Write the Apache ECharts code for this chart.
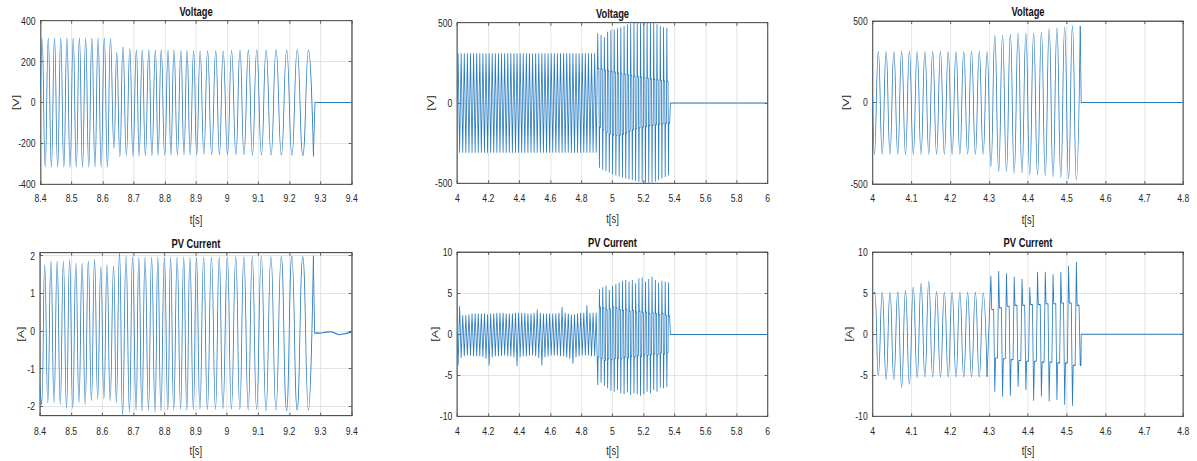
<!DOCTYPE html>
<html>
<head>
<meta charset="utf-8">
<title>Voltage and PV Current</title>
<script src="https://cdn.jsdelivr.net/npm/echarts@6.0.0/dist/echarts.min.js"></script>
<style>
  html, body { margin: 0; padding: 0; background: #fff; overflow: hidden; }
  /* the source figure is squeezed horizontally, so the chart is drawn wider and scaled in x */
  #chart { width: 1596px; height: 461px; transform: scaleX(0.75); transform-origin: 0 0; }
</style>
</head>
<body>
<div id="chart"></div>
<script>
// ---- case A (8.4 - 9.4 s): times of the voltage extremes, shared with the current ----
const tA = [8.4,
  8.405, 8.415, 8.425, 8.435, 8.445, 8.455, 8.465, 8.475, 8.485, 8.495, 8.505, 8.515,
  8.525, 8.535, 8.545, 8.555, 8.565, 8.575, 8.585, 8.595, 8.605, 8.615, 8.625, 8.636,
  8.645, 8.655, 8.665, 8.676, 8.687, 8.697, 8.708, 8.717, 8.727, 8.737, 8.748, 8.758,
  8.769, 8.778, 8.788, 8.799, 8.810, 8.819, 8.829, 8.840, 8.851, 8.861, 8.871, 8.881,
  8.892, 8.902, 8.913, 8.925, 8.937, 8.950, 8.963, 8.975, 8.987, 9.001, 9.014, 9.028,
  9.041, 9.054, 9.068, 9.081, 9.095, 9.110, 9.125, 9.141, 9.157, 9.174, 9.191, 9.208,
  9.225, 9.243, 9.261, 9.277];
const vA = [60,
  313, -315, 314, -316, 315, -315, 314, -316, 315, -316, 314, -315,
  315, -316, 314, -315, 315, -316, 314, -315, 315, -316, 314, -225,
  245, -265, 272, -258, 262, -262, 258, -262, 257, -260, 256, -260,
  257, -258, 256, -258, 255, -258, 256, -256, 254, -256, 254, -255,
  253, -255, 252, -253, 253, -255, 253, -255, 252, -255, 254, -254,
  255, -255, 256, -256, 257, -256, 257, -257, 258, -258, 257, -258,
  258, -259, 257, -263];
const iA = [-1.5,
  -1.95, 1.75, -1.9, 1.85, -1.9, 1.85, -1.95, 1.85, -2.05, 1.9, -2.05, 1.8,
  -1.9, 1.8, -1.95, 1.85, -1.85, 1.9, -1.8, 1.7, -1.8, 1.75, -1.85, 1.72,
  -1.9, 2.1, -2.25, 1.97, -2.15, 1.97, -2.1, 1.95, -2.12, 1.95, -2.1, 1.96,
  -2.15, 1.96, -2.12, 1.95, -2.1, 1.95, -2.1, 1.96, -2.08, 1.96, -2.1, 1.96,
  -2.08, 1.95, -2.07, 1.96, -2.08, 1.96, -2.08, 1.95, -2.06, 1.96, -2.07, 1.97,
  -2.08, 1.97, -2.1, 1.98, -2.08, 1.98, -2.12, 1.97, -2.1, 1.98, -2.12, 1.99,
  -2.1, 1.98, -2.1, 2.0];
const tailTA = [9.282, 9.4];
const tailVA = [0, 0];
const tailTIA = [9.281, 9.29, 9.30, 9.31, 9.32, 9.335, 9.35, 9.36, 9.37, 9.38, 9.39, 9.4];
const tailIA = [-0.06, -0.05, -0.06, -0.04, -0.03, -0.02, -0.07, -0.1, -0.08, -0.07, -0.05, -0.03];

// ---- case B (4 - 6 s) ----
const tB0 = 4.005;      // first voltage peak
const halfB = 0.01;     // half period, 50 Hz
const startB = [4.0, 0, 0];
const vBPrePk = [310, 310, 310, 310, 310, 310, 310, 310, 310, 310, 310, 310, 310, 310, 310,
  310, 310, 310, 310, 310, 310, 310, 310, 310, 310, 310, 310, 310, 310, 310,
  310, 310, 310, 310, 310, 310, 310, 310, 310, 310, 310, 310, 310, 310, 310];
const vBPreTr = [-310, -310, -310, -310, -310, -310, -310, -310, -310, -310, -310, -310, -310, -310, -310,
  -310, -310, -310, -310, -310, -310, -310, -310, -310, -310, -310, -310, -310, -310, -310,
  -310, -310, -310, -310, -310, -310, -310, -310, -310, -310, -310, -310, -310, -310, -310];
const iBPrePk = [3.4, 2.3, 2.3, 2.4, 2.5, 2.5, 2.5, 2.5, 2.5, 2.4, 2.5, 2.5, 2.6, 2.6, 2.6,
  2.5, 2.5, 2.5, 2.6, 2.6, 2.6, 2.6, 2.5, 2.5, 2.6, 3.0, 2.6, 2.5, 2.5, 2.5,
  2.5, 2.5, 2.6, 3.3, 2.6, 2.5, 2.4, 2.4, 2.5, 2.6, 2.6, 3.5, 2.6, 2.6, 2.6];
const iBPreTr = [-3.8, -2.9, -2.7, -2.6, -2.6, -2.7, -2.7, -2.7, -2.8, -3.0, -3.8, -2.8, -2.7, -2.7, -2.6,
  -2.6, -2.7, -2.7, -2.8, -3.9, -2.8, -2.7, -2.7, -2.6, -2.6, -2.7, -2.9, -3.8, -2.8, -2.7,
  -2.6, -2.6, -2.6, -2.7, -2.7, -2.8, -3.0, -3.6, -2.8, -2.7, -2.6, -2.6, -2.6, -2.7, -2.7];
const tB1 = 4.905;      // first peak after the change
const periodB = 0.0212;
const vBPostPk = [434, 424, 410, 444, 454, 458, 466, 471, 480, 491, 495, 500, 503, 505, 506, 505, 503, 498, 490, 480, 472, 468];
const vBPostTr = [-403, -415, -424, -432, -444, -452, -458, -465, -470, -475, -480, -486, -490, -492, -496, -497, -495, -490, -480, -470, -460, -450];
const vBPostUp = [215, 212, 205, 200, 196, 192, 186, 182, 178, 176, 171, 167, 164, 160, 157, 154, 150, 147, 144, 140, 137, 135];
const vBPostLo = [-150, -168, -184, -195, -200, -204, -200, -194, -186, -176, -166, -160, -155, -150, -146, -141, -138, -135, -132, -130, -127, -125];
const iBPostPk = [5.5, 5.7, 5.9, 5.4, 5.9, 6.1, 6.3, 6.5, 6.6, 6.4, 6.6, 6.2, 6.8, 6.9, 6.4, 6.7, 7.0, 6.6, 6.3, 6.5, 6.4, 6.3];
const iBPostTr = [-6.2, -5.9, -6.3, -6.6, -6.9, -7.0, -6.8, -7.2, -7.3, -7.1, -7.4, -7.2, -7.3, -7.5, -7.3, -7.0, -7.2, -6.8, -7.0, -6.5, -6.6, -6.4];
const iBPostUp = [3.3, 3.2, 3.0, 3.1, 3.3, 3.2, 3.0, 2.9, 3.0, 2.8, 2.9, 2.7, 2.8, 2.6, 2.7, 2.5, 2.6, 2.5, 2.4, 2.5, 2.3, 2.2];
const iBPostLo = [-2.8, -3.0, -3.2, -3.0, -3.1, -3.0, -2.9, -3.0, -2.8, -2.9, -2.7, -2.8, -2.6, -2.7, -2.5, -2.6, -2.5, -2.4, -2.5, -2.3, -2.4, -2.2];
const tailTB = [5.373, 6];
const tailVB = [0, 0];
const tailIB = [-0.05, -0.05];

// ---- case C (4 - 4.8 s) ----
const tC0 = 4.0045;     // first voltage trough
const halfC = 0.01;
const startC = [4.0, 40, 4.9];
const vCPre = [-317, 313, -317, 313, -317, 313, -317, 313, -317, 313, -317, 313, -317, 313, -317,
  313, -317, 313, -317, 313, -317, 313, -317, 313, -317, 313, -317, 313, -317, 313];
const vCPost = [-393, 411, -423, 411, -423, 419, -433, 425, -430, 425, -444, 425,
  -444, 431, -448, 452, -454, 456, -460, 462, -468, 470, -474, 470];
const iCPre = [5.1, -5.0, 5.1, -5.5, 5.1, -5.5, 5.15, -6.5, 5.3, -6.1, 5.7, -5.3, 6.2, -5.2, 6.4,
  -5.2, 5.2, -5.2, 5.1, -5.2, 5.1, -5.2, 5.1, -5.2, 5.1, -5.2, 5.1, -5.2, 5.0, -5.2];
const tC1 = 4.3045;
const periodC = 0.02;
const iCPostPk = [7.1, 7.7, 7.4, 7.0, 6.7, 5.7, 7.6, 7.6, 7.3, 7.6, 8.3, 8.8];
const iCPostTr = [-7.0, -7.6, -7.5, -6.4, -6.8, -8.1, -7.6, -8.2, -8.0, -8.6, -8.7, -3.8];
const iCPostUp = [3.0, 3.2, 3.4, 3.5, 3.5, 3.6, 3.6, 3.7, 3.7, 3.8, 3.8, 3.5];
const iCPostLo = [-2.9, -3.0, -3.1, -3.2, -3.3, -3.3, -3.4, -3.4, -3.5, -3.5, -3.8, -3.8];
const tailTC = [4.537, 4.8];
const tailVC = [0, 0];
const tailIC = [-0.02, -0.02];

const yTicksA = [-2, -1, 0, 1, 2];

// ---- helpers ----
const SX = 0.75;        // horizontal squeeze applied by css
const FONT = '"Liberation Sans", Arial, sans-serif';
const LINE = '#2a7cc2';
const AXIS = '#4d4d4d';
const TEXT = '#262626';
const GRIDLINE = '#e0e0e0';
// where inside one cycle the peak, shoulder, trough and shoulder sit
const SHAPE = [0, 0.1, 0.35, 0.5, 0.6, 0.85];

function zip(ts, vs) { return ts.map((t, i) => [t, vs[i]]); }
function interleave(a, b) {
  const out = [];
  a.forEach((v, i) => { out.push(v); if (i < b.length) out.push(b[i]); });
  return out;
}
function stepped(t0, dt, vs) { return vs.map((v, i) => [t0 + i * dt, v]); }
function cycles(t0, period, hi, hiS, lo, loS, hiFirst) {
  const out = [];
  hi.forEach((_, k) => {
    const vals = hiFirst
      ? [hi[k], hiS[k], hiS[k], lo[k], loS[k], loS[k]]
      : [lo[k], loS[k], loS[k], hi[k], hiS[k], hiS[k]];
    SHAPE.forEach((f, j) => out.push([t0 + (k + f) * period, vals[j]]));
  });
  return out;
}
function before(pts, tEnd) { return pts.filter(p => p[0] < tEnd); }

function line(idx, data, smooth) {
  return {
    type: 'line', xAxisIndex: idx, yAxisIndex: idx, data: data,
    smooth: smooth, showSymbol: false, symbol: 'none', silent: true,
    lineStyle: { width: 1.1, color: LINE }, itemStyle: { color: LINE }, z: 3
  };
}

// ---- series data ----
const oscVA = zip(tA, vA);
const oscIA = zip(tA, iA);

const preVB = [[startB[0], startB[1]]].concat(stepped(tB0, halfB, interleave(vBPrePk, vBPreTr)));
const preIB = [[startB[0], startB[2]]].concat(stepped(tB0, halfB, interleave(iBPreTr, iBPrePk)));
const postVB = before(cycles(tB1, periodB, vBPostPk, vBPostUp, vBPostTr, vBPostLo, true), tailTB[0]);
const postIB = before(cycles(tB1, periodB, iBPostPk, iBPostUp, iBPostTr, iBPostLo, false), tailTB[0]);

const oscVC = [[startC[0], startC[1]]].concat(stepped(tC0, halfC, vCPre.concat(vCPost)));
const preIC = [[startC[0], startC[2]]].concat(stepped(tC0, halfC, iCPre));
const postIC = before(cycles(tC1, periodC, iCPostPk, iCPostUp, iCPostTr, iCPostLo, true), tailTC[0]);

const series = [
  line(0, oscVA, 0.5),
  line(0, [oscVA[oscVA.length - 1]].concat(zip(tailTA, tailVA)), false),
  line(1, preVB.concat(postVB, zip(tailTB, tailVB)), false),
  line(2, oscVC, 0.5),
  line(2, [oscVC[oscVC.length - 1]].concat(zip(tailTC, tailVC)), false),
  line(3, oscIA, 0.5),
  line(3, [oscIA[oscIA.length - 1]].concat(zip(tailTIA, tailIA)), false),
  line(4, preIB.concat(postIB, zip(tailTB, tailIB)), false),
  line(5, preIC, 0.5),
  line(5, [preIC[preIC.length - 1]].concat(postIC, zip(tailTC, tailIC)), false)
];

// ---- layout (boxes in screen px, before the squeeze is undone) ----
const panels = [
  { title: 'Voltage', yName: '[V]', x: [8.4, 9.4, 0.1], y: [-400, 400, 200], box: [40.5, 20.7, 311.2, 163.6], yNameAt: 15, xMargin: 8, xGap: 29 },
  { title: 'Voltage', yName: '[V]', x: [4, 6, 0.2], y: [-500, 500, 500], box: [457.3, 22.7, 310.4, 160.6], yNameAt: 430, xMargin: 9, xGap: 29 },
  { title: 'Voltage', yName: '[V]', x: [4, 4.8, 0.1], y: [-500, 500, 500], box: [872.7, 21, 310.6, 163], yNameAt: 845, xMargin: 8, xGap: 29 },
  { title: 'PV Current', yName: '[A]', x: [8.4, 9.4, 0.1], y: [-2.25, 2.08], yTicks: yTicksA, box: [40, 252.7, 311.7, 163], yNameAt: 20, xMargin: 9, xGap: 28 },
  { title: 'PV Current', yName: '[A]', x: [4, 6, 0.2], y: [-10, 10, 5], box: [457.3, 252, 310.4, 164.3], yNameAt: 434, xMargin: 9, xGap: 28 },
  { title: 'PV Current', yName: '[A]', x: [4, 4.8, 0.1], y: [-10, 10, 5], box: [872.7, 252, 310.6, 164.3], yNameAt: 847.5, xMargin: 9, xGap: 28 }
];

const grid = [], title = [], xAxis = [], yAxis = [], xTop = [], yRight = [];
const labelStyle = { fontFamily: FONT, fontSize: 11.5, color: TEXT };
const nameStyle = { fontFamily: FONT, fontSize: 12.5, color: TEXT };

panels.forEach((p, i) => {
  const [l, t, w, h] = p.box;
  grid.push({ left: l / SX, top: t, width: w / SX, height: h, show: true, borderColor: AXIS, borderWidth: 1,
    backgroundColor: '#fff', containLabel: false, outerBoundsMode: 'none' });
  title.push({ text: p.title, left: (l + w / 2) / SX, top: t - 16, textAlign: 'center', padding: 0,
    textStyle: { fontFamily: FONT, fontSize: 12.5, fontWeight: 'bold', color: '#111' } });

  const xBase = { gridIndex: i, type: 'value', min: p.x[0], max: p.x[1], interval: p.x[2] };
  xAxis.push(Object.assign({}, xBase, {
    position: 'bottom', name: 't[s]', nameLocation: 'middle', nameGap: p.xGap, nameTextStyle: nameStyle,
    nameMoveOverlap: false,
    axisLine: { show: true, onZero: false, lineStyle: { color: AXIS, width: 1 } },
    axisTick: { show: true, inside: true, length: 3, lineStyle: { color: AXIS } },
    axisLabel: Object.assign({ margin: p.xMargin }, labelStyle),
    splitLine: { show: true, lineStyle: { color: GRIDLINE, width: 1 } }
  }));
  xTop.push(Object.assign({}, xBase, {
    position: 'top',
    axisLine: { show: true, onZero: false, lineStyle: { color: AXIS, width: 1 } },
    axisTick: { show: true, inside: true, length: 3, lineStyle: { color: AXIS } },
    axisLabel: { show: false }, splitLine: { show: false }
  }));

  const yBase = { gridIndex: i, type: 'value', min: p.y[0], max: p.y[1] };
  if (p.y[2]) yBase.interval = p.y[2];
  const tickExtra = p.yTicks ? { customValues: p.yTicks } : {};
  // distance from the axis to the near edge of the rotated name, in unsqueezed px
  const gap = (l - p.yNameAt) / SX - 7.5;
  yAxis.push(Object.assign({}, yBase, {
    position: 'left', name: p.yName, nameLocation: 'middle', nameGap: gap, nameTextStyle: nameStyle,
    nameMoveOverlap: false,
    axisLine: { show: true, onZero: false, lineStyle: { color: AXIS, width: 1 } },
    axisTick: Object.assign({ show: true, inside: true, length: 3 / SX, lineStyle: { color: AXIS } }, tickExtra),
    axisLabel: Object.assign({ margin: 5 / SX }, labelStyle, tickExtra),
    splitLine: { show: true, lineStyle: { color: GRIDLINE, width: 1 } }
  }));
  yRight.push(Object.assign({}, yBase, {
    position: 'right',
    axisLine: { show: true, onZero: false, lineStyle: { color: AXIS, width: 1 } },
    axisTick: Object.assign({ show: true, inside: true, length: 3 / SX, lineStyle: { color: AXIS } }, tickExtra),
    axisLabel: { show: false }, splitLine: { show: false }
  }));
});

const chart = echarts.init(document.getElementById('chart'), null, { renderer: 'svg', width: 1596, height: 461 });
chart.setOption({
  backgroundColor: '#fff',
  animation: false,
  title: title,
  grid: grid,
  xAxis: xAxis.concat(xTop),
  yAxis: yAxis.concat(yRight),
  series: series
});
</script>
</body>
</html>
